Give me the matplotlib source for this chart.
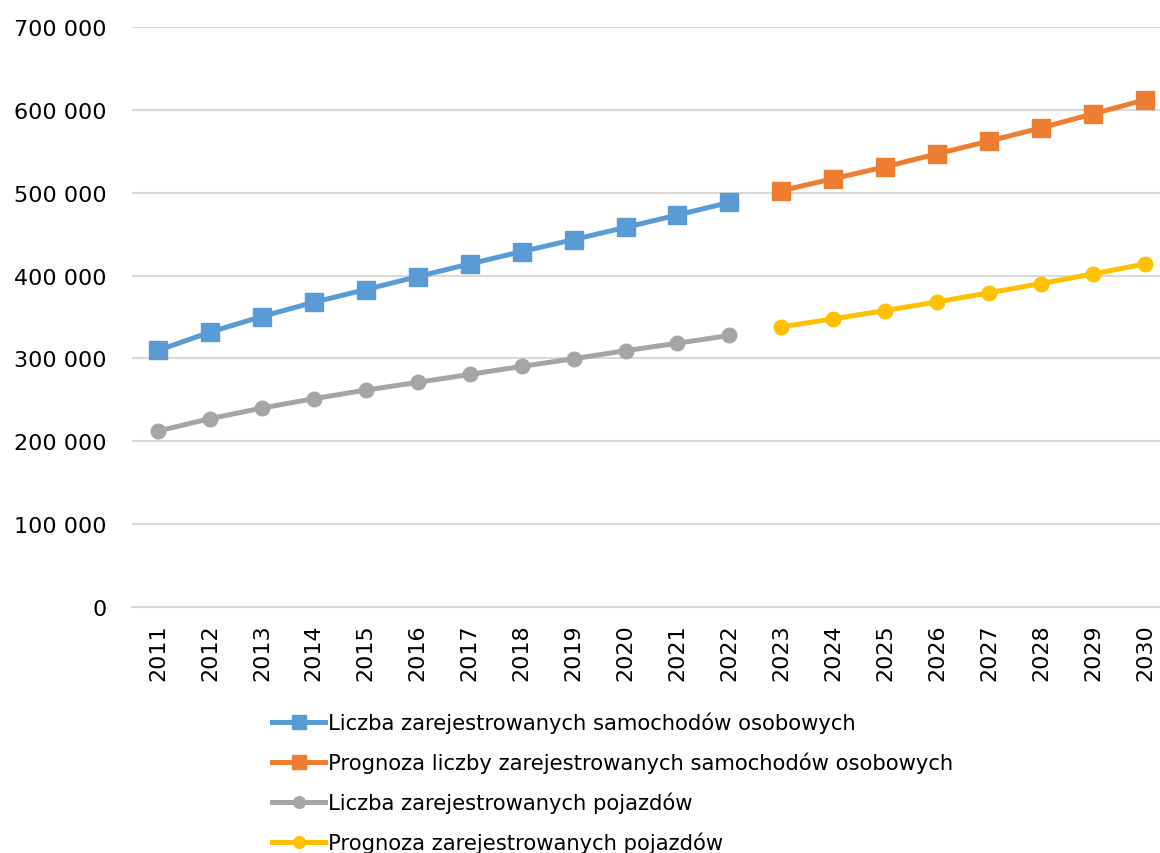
import matplotlib.pyplot as plt
from matplotlib.ticker import FuncFormatter

# Dane
lata = [str(r) for r in range(2011, 2031)]
lata_hist = lata[:12]
lata_prog = lata[12:]

samochody = [309600, 331700, 350600, 367800, 383100, 398800,
             414100, 428900, 443400, 458200, 473100, 488300]
samochody_prognoza = [502400, 516900, 531300, 547000, 562300, 578300, 595200, 612000]
pojazdy = [212400, 227300, 240100, 251400, 261800, 271100,
           280700, 290400, 299600, 309300, 318400, 327700]
pojazdy_prognoza = [338200, 347800, 357800, 368300, 379200, 390400, 402000, 414100]

nazwy = ['Liczba zarejestrowanych samochodów osobowych',
         'Prognoza liczby zarejestrowanych samochodów osobowych',
         'Liczba zarejestrowanych pojazdów',
         'Prognoza zarejestrowanych pojazdów']

plt.rcParams['font.family'] = ['DejaVu Sans']

fig = plt.figure(figsize=(11.6, 8.54), dpi=100)
# obszar wykresu wychodzi lekko poza prawą krawędź (jak w oryginale)
ax = fig.add_axes([132 / 1160, (854 - 608) / 854, (1171 - 132) / 1160, 580 / 854])

x_hist = list(range(len(lata_hist)))
x_prog = list(range(len(lata_hist), len(lata)))

ax.plot(x_hist, samochody, color='#5B9BD5', lw=3.6, marker='s', ms=12.5, label=nazwy[0])
ax.plot(x_prog, samochody_prognoza, color='#ED7D31', lw=3.6, marker='s', ms=12.5, label=nazwy[1])
ax.plot(x_hist, pojazdy, color='#A5A5A5', lw=3.6, marker='o', ms=10.5, label=nazwy[2])
ax.plot(x_prog, pojazdy_prognoza, color='#FFC000', lw=3.6, marker='o', ms=10.5, label=nazwy[3])

ax.set_xlim(-0.5, len(lata) - 0.5)
ax.set_ylim(0, 700000)
ax.set_yticks(range(0, 700001, 100000))
ax.yaxis.set_major_formatter(FuncFormatter(lambda v, p: f'{int(v):,}'.replace(',', ' ')))
ax.set_xticks(range(len(lata)))
ax.set_xticklabels(lata, rotation=90)

ax.grid(axis='y', color='#D9D9D9', lw=1.5)
ax.set_axisbelow(True)
for s in ['top', 'right', 'left']:
    ax.spines[s].set_visible(False)
ax.spines['bottom'].set_color('#D9D9D9')
ax.spines['bottom'].set_linewidth(1.5)
ax.tick_params(axis='both', length=0, labelsize=16, colors='black')
ax.tick_params(axis='y', pad=18)
ax.tick_params(axis='x', pad=12)

leg = ax.legend(loc='upper left', bbox_to_anchor=(264 / 1160, 1 - 704 / 854),
                bbox_transform=fig.transFigure, frameon=False, fontsize=15.2,
                handlelength=2.5, handletextpad=0.15, labelspacing=0.88,
                borderaxespad=0, markerscale=0.8)

fig.savefig('out.png', dpi=100)
